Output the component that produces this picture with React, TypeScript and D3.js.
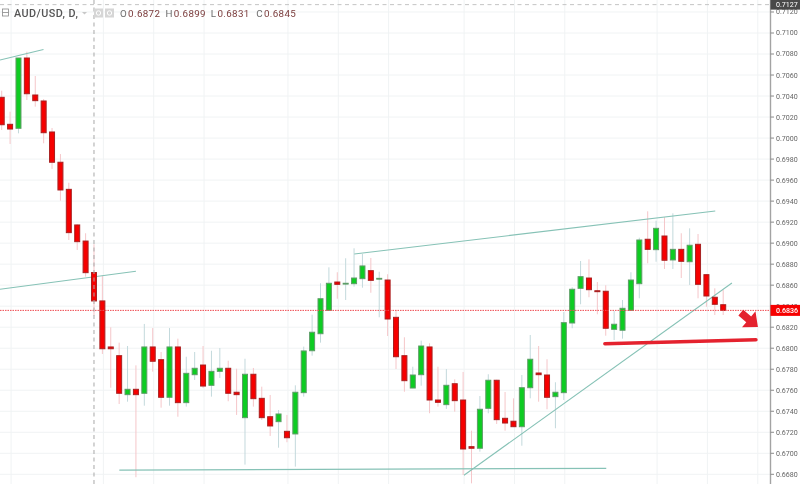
import React from "react";
import * as d3 from "d3";

const opens = [0.70388,0.70131,0.70093,0.70762,0.7041,0.70353,0.70058,0.6977,0.69512,0.69173,0.6902,0.6872,0.6845,0.68012,0.67929,0.67558,0.67609,0.67571,0.68012,0.67891,0.67533,0.68012,0.67482,0.67748,0.6784,0.67647,0.6778,0.67809,0.67581,0.67339,0.67752,0.67523,0.67348,0.67301,0.67209,0.67184,0.67577,0.67976,0.68138,0.68361,0.6863,0.68611,0.68614,0.68662,0.68738,0.68659,0.68649,0.68294,0.67929,0.67621,0.67748,0.68012,0.67507,0.67463,0.67662,0.67507,0.67063,0.67048,0.67428,0.67695,0.67333,0.67305,0.67253,0.67624,0.67764,0.67745,0.67539,0.67577,0.6824,0.6857,0.68668,0.68547,0.68542,0.6818,0.68171,0.68361,0.68614,0.69037,0.68938,0.69068,0.6884,0.68941,0.68823,0.68989,0.687,0.68485,0.68414];
const closes = [0.70127,0.70086,0.70762,0.70422,0.70356,0.70051,0.6977,0.69506,0.691,0.69014,0.68719,0.6845,0.67995,0.67995,0.67571,0.67609,0.67558,0.68012,0.67876,0.67533,0.68012,0.67482,0.67761,0.67809,0.6764,0.6778,0.67809,0.67571,0.67558,0.67752,0.6752,0.67339,0.6726,0.67374,0.67148,0.67581,0.67974,0.68152,0.68471,0.68618,0.68608,0.68618,0.68668,0.68783,0.68646,0.68665,0.68278,0.67919,0.67691,0.67745,0.68021,0.67507,0.67485,0.67647,0.67501,0.67041,0.67048,0.67419,0.67695,0.6732,0.67288,0.67253,0.67624,0.67895,0.67748,0.67533,0.67581,0.68243,0.68561,0.68681,0.68557,0.68538,0.6819,0.68228,0.6838,0.68649,0.6903,0.68941,0.69141,0.68837,0.68941,0.68827,0.6898,0.68608,0.68497,0.68418,0.6836];
const highs = [0.70451,0.70251,0.70762,0.70822,0.70591,0.70372,0.70096,0.69848,0.69575,0.6918,0.69094,0.6899,0.68687,0.68199,0.68053,0.68021,0.67837,0.68231,0.68192,0.67964,0.68192,0.68091,0.67919,0.67964,0.68021,0.67976,0.68002,0.67881,0.67805,0.679,0.67812,0.67634,0.67555,0.67412,0.67365,0.67647,0.68015,0.68319,0.68618,0.6877,0.68723,0.68856,0.68951,0.68897,0.68859,0.68728,0.68704,0.68364,0.68104,0.67824,0.68072,0.68047,0.67824,0.67802,0.67704,0.67774,0.67215,0.67545,0.67752,0.677,0.67583,0.67523,0.67745,0.68126,0.68021,0.67895,0.67676,0.68345,0.6858,0.6883,0.68846,0.6863,0.68599,0.68354,0.68459,0.68723,0.69052,0.69303,0.69214,0.69246,0.69284,0.69094,0.69141,0.69087,0.68707,0.6857,0.68554];
const lows = [0.70077,0.69944,0.70045,0.70362,0.70299,0.6995,0.69706,0.69404,0.6903,0.68935,0.68681,0.6831,0.67945,0.67624,0.67469,0.67491,0.66772,0.67453,0.67777,0.67434,0.67453,0.67348,0.67444,0.67698,0.67621,0.67539,0.67717,0.67495,0.67365,0.66892,0.67444,0.67317,0.67165,0.67053,0.67105,0.66873,0.67539,0.67929,0.68053,0.68356,0.68471,0.68459,0.68586,0.68576,0.68528,0.68294,0.68116,0.67802,0.67586,0.6762,0.67643,0.67381,0.67444,0.67422,0.67396,0.66793,0.66714,0.67015,0.67381,0.67279,0.67215,0.6725,0.67072,0.67523,0.67491,0.67419,0.67238,0.67507,0.6819,0.68418,0.68485,0.68323,0.68119,0.68078,0.68091,0.68356,0.68475,0.68808,0.68823,0.68754,0.68754,0.68668,0.68602,0.68475,0.68395,0.68316,0.68316];

const priceTicks = d3.range(0.668, 0.7121, 0.002);
const gridIndexes = [1, 12, 18, 24, 34, 40, 46, 55, 61, 67, 78, 84, 90];
const symbol = "AUD/USD, D,";
const ohlcLabels = ["O", "H", "L", "C"];
const ohlcValues = ["0.6872", "0.6899", "0.6831", "0.6845"];
const lastPrice = 0.6836;
const crosshairPrice = 0.7127;
const crosshairIndex = 11;

const trendA = [[-0.2, 0.70743], [4.98, 0.70843]];
const trendB = [[-0.2, 0.68561], [16.0, 0.68732]];
const trendC = [[14.02, 0.66839], [72.06, 0.66857]];
const trendD = [[42.03, 0.68897], [85.05, 0.69306]];
const trendE = [[55.1, 0.66791], [87.04, 0.68621]];
const supportLine = [[71.9, 0.68043], [89.9, 0.68081]];
const arrowLine = [[88.1, 0.68338], [90.14, 0.68202]];

const W = 800;
const H = 484;
const AXIS_X = 770.5;

const x = d3.scaleLinear().domain([0, 86]).range([1.7, 723.2]);
const y = d3.scaleLinear().domain([0.668, 0.71]).range([474.3, 33]);

const lineGen = d3.line<number[]>().x((d) => x(d[0])).y((d) => y(d[1]));
const TEAL = "#86c2b6";
const FONT = "Roboto, 'Open Sans', Arial, sans-serif";

function arrowPoints() {
  const [ax, ay] = [x(arrowLine[0][0]), y(arrowLine[0][1])];
  const [bx, by] = [x(arrowLine[1][0]), y(arrowLine[1][1])];
  const len = Math.hypot(bx - ax, by - ay);
  const ux = (bx - ax) / len;
  const uy = (by - ay) / len;
  const nx = -uy;
  const ny = ux;
  const headLen = 12;
  const shaft = 3.8;
  const head = 10.5;
  const p = (along: number, side: number) =>
    `${ax + ux * along + nx * side},${ay + uy * along + ny * side}`;
  return [
    p(0, -shaft), p(len - headLen, -shaft), p(len - headLen, -head), p(len, 0),
    p(len - headLen, head), p(len - headLen, shaft), p(0, shaft),
  ].join(" ");
}

export default function App() {
  return (
    <svg
      width={W}
      height={H}
      viewBox={`0 0 ${W} ${H}`}
      style={{ position: "absolute", left: 0, top: 0, background: "#fff" }}
    >
      <defs>
        <filter id="soft" x="-2%" y="-2%" width="104%" height="104%">
          <feGaussianBlur stdDeviation="0.35" />
        </filter>
        <clipPath id="plot">
          <rect x={0} y={0} width={AXIS_X} height={H} />
        </clipPath>
      </defs>
      <g filter="url(#soft)">
        <g clipPath="url(#plot)">
          {priceTicks.map((t) => (
            <line key={t} x1={0} x2={AXIS_X} y1={y(t)} y2={y(t)} stroke="#f0f3f4" strokeWidth={1} />
          ))}
          {gridIndexes.map((i) => (
            <line key={i} x1={x(i) + 1} x2={x(i) + 1} y1={0} y2={H} stroke="#f0f3f4" strokeWidth={1} />
          ))}
          {opens.map((o, i) => {
            const up = closes[i] >= o;
            return (
              <line
                key={i}
                x1={x(i)}
                x2={x(i)}
                y1={y(highs[i])}
                y2={y(lows[i])}
                stroke={up ? "#c3d9dc" : "#f5c6c9"}
                strokeWidth={1}
              />
            );
          })}
          <path d={lineGen(trendA) ?? ""} fill="none" stroke={TEAL} strokeWidth={1.1} />
          <path d={lineGen(trendB) ?? ""} fill="none" stroke={TEAL} strokeWidth={1.1} />
          <path d={lineGen(trendC) ?? ""} fill="none" stroke={TEAL} strokeWidth={1.3} />
          <path d={lineGen(trendD) ?? ""} fill="none" stroke={TEAL} strokeWidth={1.1} />
          <path d={lineGen(trendE) ?? ""} fill="none" stroke={TEAL} strokeWidth={1.1} />
          {opens.map((o, i) => {
            const up = closes[i] >= o;
            const top = y(Math.max(o, closes[i]));
            const bottom = y(Math.min(o, closes[i]));
            return (
              <rect
                key={i}
                x={x(i) - 2.5}
                y={top}
                width={5}
                height={Math.max(bottom - top, 0.8)}
                fill={up ? "#10cc20" : "#f60000"}
                stroke={up ? "#5d9c68" : "#a82020"}
                strokeWidth={1}
              />
            );
          })}
          <line
            x1={0}
            x2={AXIS_X}
            y1={y(lastPrice)}
            y2={y(lastPrice)}
            stroke="#ee4b50"
            strokeWidth={1}
            strokeDasharray="1.5 1"
          />
          <line
            x1={x(crosshairIndex)}
            x2={x(crosshairIndex)}
            y1={0}
            y2={H}
            stroke="#a8a8a8"
            strokeWidth={1}
            strokeDasharray="4 3.5"
          />
          <line
            x1={0}
            x2={AXIS_X}
            y1={y(crosshairPrice)}
            y2={y(crosshairPrice)}
            stroke="#c4c4c4"
            strokeWidth={1}
            strokeDasharray="4 3.5"
          />
          <path
            d={lineGen(supportLine) ?? ""}
            fill="none"
            stroke="#e4212e"
            strokeWidth={3.6}
            strokeLinecap="round"
          />
          <polygon points={arrowPoints()} fill="#e4212e" />
        </g>

        <rect x={AXIS_X} y={0} width={W - AXIS_X} height={H} fill="#fff" />
        <line x1={AXIS_X} x2={AXIS_X} y1={0} y2={H} stroke="#a3a3a3" strokeWidth={1.4} />
        {priceTicks.map((t) => (
          <g key={t}>
            <line x1={AXIS_X} x2={AXIS_X + 3.5} y1={y(t)} y2={y(t)} stroke="#8a8a8a" strokeWidth={1} />
            <text
              x={776}
              y={y(t)}
              dy="0.35em"
              fontFamily={FONT}
              fontSize={7.1}
              fill="#666"
            >
              {t.toFixed(4)}
            </text>
          </g>
        ))}
        <rect x={AXIS_X} y={y(crosshairPrice) - 5} width={W - AXIS_X} height={10} fill="#4a4a4a" />
        <text
          x={776}
          y={y(crosshairPrice)}
          dy="0.35em"
          fontFamily={FONT}
          fontSize={7.1}
          fill="#fff"
        >
          {crosshairPrice.toFixed(4)}
        </text>
        <rect x={AXIS_X} y={y(lastPrice) - 5.5} width={W - AXIS_X} height={11} fill="#f60000" />
        <text
          x={776}
          y={y(lastPrice)}
          dy="0.35em"
          fontFamily={FONT}
          fontSize={7.1}
          fontWeight={500}
          fill="#fff"
        >
          {lastPrice.toFixed(4)}
        </text>

        <rect x={2.5} y={9} width={6} height={7} fill="#fff" stroke="#888" strokeWidth={0.8} />
        <line x1={2.5} x2={8.5} y1={12.5} y2={12.5} stroke="#888" strokeWidth={0.8} />
        <text x={14} y={16.5} fontFamily={FONT} fontSize={10.8} fontWeight={500} letterSpacing={0.45} fill="#555">
          {symbol}
        </text>
        <path d="M82 12 h5 l-2.5 2.5 z" fill="#c8c8c8" />
        <rect x={94} y={8.5} width={9} height={9} fill="#d6d6d6" />
        <circle cx={98.5} cy={13} r={2.2} fill="none" stroke="#fff" strokeWidth={1} />
        <rect x={105} y={8.5} width={9} height={9} fill="#d6d6d6" />
        <circle cx={109.5} cy={13} r={2.2} fill="none" stroke="#fff" strokeWidth={1} />
        {ohlcLabels.map((lab, i) => (
          <text
            key={lab}
            x={120 + i * 45.4}
            y={16.5}
            fontFamily={FONT}
            fontSize={9.8}
            letterSpacing={0.35}
            fill="#6b6b6b"
          >
            {lab}
            <tspan dx={1} fill="#7a3b3b">
              {ohlcValues[i]}
            </tspan>
          </text>
        ))}
      </g>
    </svg>
  );
}
